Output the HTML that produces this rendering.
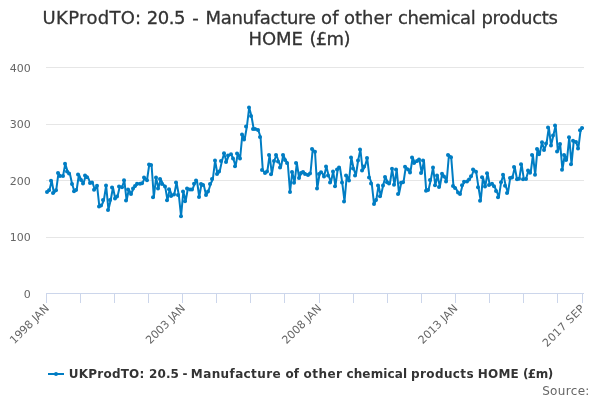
<!DOCTYPE html>
<html lang="en"><head><meta charset="utf-8"><title>UKProdTO: 20.5 - Manufacture of other chemical products HOME (£m)</title>
<style>
html,body{margin:0;padding:0;background:#fff;}
body{width:600px;height:400px;overflow:hidden;}
svg{display:block;font-family:"DejaVu Sans", "Liberation Sans", sans-serif;}
</style></head><body>
<svg width="600" height="400" viewBox="0 0 600 400">
<rect x="0" y="0" width="600" height="400" fill="#ffffff"/>

<g stroke="#e6e6e6" stroke-width="1" fill="none">
<path d="M 46 237.5 L 584 237.5"/>
<path d="M 46 180.5 L 584 180.5"/>
<path d="M 46 124.5 L 584 124.5"/>
<path d="M 46 67.5 L 584 67.5"/>
</g>
<g stroke="#ccd6eb" stroke-width="1" fill="none">
<path d="M 46 293.5 L 584 293.5"/>
<path d="M 46.5 293 L 46.5 303"/>
<path d="M 80.5 293 L 80.5 303"/>
<path d="M 114.5 293 L 114.5 303"/>
<path d="M 148.5 293 L 148.5 303"/>
<path d="M 182.5 293 L 182.5 303"/>
<path d="M 216.5 293 L 216.5 303"/>
<path d="M 250.5 293 L 250.5 303"/>
<path d="M 284.5 293 L 284.5 303"/>
<path d="M 319.5 293 L 319.5 303"/>
<path d="M 353.5 293 L 353.5 303"/>
<path d="M 387.5 293 L 387.5 303"/>
<path d="M 421.5 293 L 421.5 303"/>
<path d="M 455.5 293 L 455.5 303"/>
<path d="M 489.5 293 L 489.5 303"/>
<path d="M 523.5 293 L 523.5 303"/>
<path d="M 557.5 293 L 557.5 303"/>
<path d="M 582.5 293 L 582.5 303"/>
</g>
<g font-size="11" fill="#666666" text-anchor="end">
<text x="30.8" y="297.5">0</text>
<text x="30.8" y="241">100</text>
<text x="30.8" y="184.5">200</text>
<text x="30.8" y="128">300</text>
<text x="30.8" y="71.5">400</text>
</g>
<g font-size="11" fill="#666666" text-anchor="end">
<text x="49.74" y="309.00" transform="rotate(-45 49.74 309.00)">1998 JAN</text>
<text x="185.94" y="309.00" transform="rotate(-45 185.94 309.00)">2003 JAN</text>
<text x="322.14" y="309.00" transform="rotate(-45 322.14 309.00)">2008 JAN</text>
<text x="458.34" y="309.00" transform="rotate(-45 458.34 309.00)">2013 JAN</text>
<text x="585.46" y="309.00" letter-spacing="0.29" transform="rotate(-45 585.46 309.00)">2017 SEP</text>
</g>
<path d="M 47.14 192.00 L 49.41 190.20 L 51.68 180.80 L 53.95 193.00 L 56.22 190.20 L 58.49 173.00 L 60.76 176.00 L 63.03 176.00 L 65.30 163.80 L 67.57 171.50 L 69.84 173.50 L 72.11 184.00 L 74.38 191.20 L 76.65 190.00 L 78.92 174.50 L 81.19 180.00 L 83.46 183.50 L 85.73 175.60 L 88.00 177.30 L 90.27 183.00 L 92.54 182.50 L 94.81 189.80 L 97.08 185.70 L 99.35 206.50 L 101.62 205.50 L 103.89 200.00 L 106.16 185.50 L 108.43 209.90 L 110.70 200.00 L 112.97 187.50 L 115.24 198.50 L 117.51 196.50 L 119.78 186.50 L 122.05 187.20 L 124.32 180.20 L 126.59 200.50 L 128.86 189.50 L 131.13 194.00 L 133.40 188.50 L 135.67 186.00 L 137.94 183.80 L 140.21 183.80 L 142.48 183.30 L 144.75 177.60 L 147.02 180.20 L 149.29 164.50 L 151.56 165.00 L 153.83 197.20 L 156.10 177.50 L 158.37 188.50 L 160.64 179.00 L 162.91 184.00 L 165.18 186.60 L 167.45 200.20 L 169.72 189.20 L 171.99 196.00 L 174.26 194.50 L 176.53 182.50 L 178.80 195.00 L 181.07 216.20 L 183.34 191.50 L 185.61 201.20 L 187.88 188.50 L 190.15 189.50 L 192.42 189.50 L 194.69 183.70 L 196.96 180.50 L 199.23 197.00 L 201.50 184.00 L 203.77 185.00 L 206.04 195.00 L 208.31 191.50 L 210.58 184.00 L 212.85 179.00 L 215.12 160.50 L 217.39 174.00 L 219.66 171.60 L 221.93 161.00 L 224.20 153.20 L 226.47 162.00 L 228.74 155.50 L 231.01 154.20 L 233.28 158.50 L 235.55 166.30 L 237.82 153.50 L 240.09 158.50 L 242.36 134.50 L 244.63 139.50 L 246.90 126.50 L 249.17 107.50 L 251.44 116.00 L 253.71 129.00 L 255.98 129.00 L 258.25 130.00 L 260.52 137.00 L 262.79 170.00 L 265.06 173.00 L 267.33 171.50 L 269.60 155.00 L 271.87 174.20 L 274.14 161.00 L 276.41 155.00 L 278.68 161.50 L 280.95 167.50 L 283.22 155.00 L 285.49 160.00 L 287.76 163.00 L 290.03 192.00 L 292.30 172.00 L 294.57 182.70 L 296.84 163.00 L 299.11 178.00 L 301.38 173.00 L 303.65 172.00 L 305.92 174.00 L 308.19 175.00 L 310.46 173.50 L 312.73 149.10 L 315.00 151.80 L 317.27 188.50 L 319.54 174.00 L 321.81 172.20 L 324.08 176.50 L 326.35 166.50 L 328.62 175.50 L 330.89 182.50 L 333.16 171.50 L 335.43 186.20 L 337.70 169.50 L 339.97 167.50 L 342.24 182.60 L 344.51 201.50 L 346.78 175.50 L 349.05 180.50 L 351.32 157.50 L 353.59 168.50 L 355.86 175.50 L 358.13 160.50 L 360.40 149.50 L 362.67 170.60 L 364.94 166.50 L 367.21 158.00 L 369.48 177.50 L 371.75 183.50 L 374.02 204.00 L 376.29 200.00 L 378.56 185.50 L 380.83 196.20 L 383.10 185.50 L 385.37 177.00 L 387.64 182.20 L 389.91 183.50 L 392.18 168.80 L 394.45 184.80 L 396.72 169.50 L 398.99 194.00 L 401.26 182.80 L 403.53 182.20 L 405.80 166.80 L 408.07 169.50 L 410.34 172.60 L 412.61 157.50 L 414.88 163.00 L 417.15 161.00 L 419.42 159.50 L 421.69 173.00 L 423.96 160.50 L 426.23 190.80 L 428.50 190.00 L 430.77 180.00 L 433.04 167.50 L 435.31 185.20 L 437.58 175.50 L 439.85 186.90 L 442.12 173.80 L 444.39 176.50 L 446.66 181.50 L 448.93 155.00 L 451.20 157.20 L 453.47 186.10 L 455.74 188.00 L 458.01 192.50 L 460.28 194.00 L 462.55 185.30 L 464.82 181.70 L 467.09 181.50 L 469.36 179.50 L 471.63 176.20 L 473.90 169.50 L 476.17 171.80 L 478.44 187.20 L 480.71 200.80 L 482.98 177.20 L 485.25 186.50 L 487.52 173.20 L 489.79 185.00 L 492.06 183.80 L 494.33 186.20 L 496.60 191.00 L 498.87 197.20 L 501.14 182.20 L 503.41 174.80 L 505.68 185.80 L 507.95 193.00 L 510.22 177.90 L 512.49 177.50 L 514.76 167.10 L 517.03 179.20 L 519.30 178.80 L 521.57 164.20 L 523.84 179.20 L 526.11 179.00 L 528.38 170.50 L 530.65 172.80 L 532.92 155.00 L 535.19 174.80 L 537.46 149.00 L 539.73 154.20 L 542.00 142.20 L 544.27 150.00 L 546.54 143.50 L 548.81 127.50 L 551.08 145.50 L 553.35 135.50 L 555.62 125.50 L 557.89 151.50 L 560.16 144.00 L 562.43 169.70 L 564.70 155.00 L 566.97 160.00 L 569.24 137.20 L 571.51 164.20 L 573.78 140.80 L 576.05 142.00 L 578.32 148.60 L 580.59 130.20 L 582.86 127.90" fill="none" stroke="#007dc3" stroke-width="2" stroke-linejoin="round" stroke-linecap="round"/>
<g fill="#007dc3">
<circle cx="47" cy="192.00" r="2"/>
<circle cx="49" cy="190.20" r="2"/>
<circle cx="51" cy="180.80" r="2"/>
<circle cx="53" cy="193.00" r="2"/>
<circle cx="56" cy="190.20" r="2"/>
<circle cx="58" cy="173.00" r="2"/>
<circle cx="60" cy="176.00" r="2"/>
<circle cx="63" cy="176.00" r="2"/>
<circle cx="65" cy="163.80" r="2"/>
<circle cx="67" cy="171.50" r="2"/>
<circle cx="69" cy="173.50" r="2"/>
<circle cx="72" cy="184.00" r="2"/>
<circle cx="74" cy="191.20" r="2"/>
<circle cx="76" cy="190.00" r="2"/>
<circle cx="78" cy="174.50" r="2"/>
<circle cx="81" cy="180.00" r="2"/>
<circle cx="83" cy="183.50" r="2"/>
<circle cx="85" cy="175.60" r="2"/>
<circle cx="87" cy="177.30" r="2"/>
<circle cx="90" cy="183.00" r="2"/>
<circle cx="92" cy="182.50" r="2"/>
<circle cx="94" cy="189.80" r="2"/>
<circle cx="97" cy="185.70" r="2"/>
<circle cx="99" cy="206.50" r="2"/>
<circle cx="101" cy="205.50" r="2"/>
<circle cx="103" cy="200.00" r="2"/>
<circle cx="106" cy="185.50" r="2"/>
<circle cx="108" cy="209.90" r="2"/>
<circle cx="110" cy="200.00" r="2"/>
<circle cx="112" cy="187.50" r="2"/>
<circle cx="115" cy="198.50" r="2"/>
<circle cx="117" cy="196.50" r="2"/>
<circle cx="119" cy="186.50" r="2"/>
<circle cx="122" cy="187.20" r="2"/>
<circle cx="124" cy="180.20" r="2"/>
<circle cx="126" cy="200.50" r="2"/>
<circle cx="128" cy="189.50" r="2"/>
<circle cx="131" cy="194.00" r="2"/>
<circle cx="133" cy="188.50" r="2"/>
<circle cx="135" cy="186.00" r="2"/>
<circle cx="137" cy="183.80" r="2"/>
<circle cx="140" cy="183.80" r="2"/>
<circle cx="142" cy="183.30" r="2"/>
<circle cx="144" cy="177.60" r="2"/>
<circle cx="147" cy="180.20" r="2"/>
<circle cx="149" cy="164.50" r="2"/>
<circle cx="151" cy="165.00" r="2"/>
<circle cx="153" cy="197.20" r="2"/>
<circle cx="156" cy="177.50" r="2"/>
<circle cx="158" cy="188.50" r="2"/>
<circle cx="160" cy="179.00" r="2"/>
<circle cx="162" cy="184.00" r="2"/>
<circle cx="165" cy="186.60" r="2"/>
<circle cx="167" cy="200.20" r="2"/>
<circle cx="169" cy="189.20" r="2"/>
<circle cx="171" cy="196.00" r="2"/>
<circle cx="174" cy="194.50" r="2"/>
<circle cx="176" cy="182.50" r="2"/>
<circle cx="178" cy="195.00" r="2"/>
<circle cx="181" cy="216.20" r="2"/>
<circle cx="183" cy="191.50" r="2"/>
<circle cx="185" cy="201.20" r="2"/>
<circle cx="187" cy="188.50" r="2"/>
<circle cx="190" cy="189.50" r="2"/>
<circle cx="192" cy="189.50" r="2"/>
<circle cx="194" cy="183.70" r="2"/>
<circle cx="196" cy="180.50" r="2"/>
<circle cx="199" cy="197.00" r="2"/>
<circle cx="201" cy="184.00" r="2"/>
<circle cx="203" cy="185.00" r="2"/>
<circle cx="206" cy="195.00" r="2"/>
<circle cx="208" cy="191.50" r="2"/>
<circle cx="210" cy="184.00" r="2"/>
<circle cx="212" cy="179.00" r="2"/>
<circle cx="215" cy="160.50" r="2"/>
<circle cx="217" cy="174.00" r="2"/>
<circle cx="219" cy="171.60" r="2"/>
<circle cx="221" cy="161.00" r="2"/>
<circle cx="224" cy="153.20" r="2"/>
<circle cx="226" cy="162.00" r="2"/>
<circle cx="228" cy="155.50" r="2"/>
<circle cx="231" cy="154.20" r="2"/>
<circle cx="233" cy="158.50" r="2"/>
<circle cx="235" cy="166.30" r="2"/>
<circle cx="237" cy="153.50" r="2"/>
<circle cx="240" cy="158.50" r="2"/>
<circle cx="242" cy="134.50" r="2"/>
<circle cx="244" cy="139.50" r="2"/>
<circle cx="246" cy="126.50" r="2"/>
<circle cx="249" cy="107.50" r="2"/>
<circle cx="251" cy="116.00" r="2"/>
<circle cx="253" cy="129.00" r="2"/>
<circle cx="255" cy="129.00" r="2"/>
<circle cx="258" cy="130.00" r="2"/>
<circle cx="260" cy="137.00" r="2"/>
<circle cx="262" cy="170.00" r="2"/>
<circle cx="265" cy="173.00" r="2"/>
<circle cx="267" cy="171.50" r="2"/>
<circle cx="269" cy="155.00" r="2"/>
<circle cx="271" cy="174.20" r="2"/>
<circle cx="274" cy="161.00" r="2"/>
<circle cx="276" cy="155.00" r="2"/>
<circle cx="278" cy="161.50" r="2"/>
<circle cx="280" cy="167.50" r="2"/>
<circle cx="283" cy="155.00" r="2"/>
<circle cx="285" cy="160.00" r="2"/>
<circle cx="287" cy="163.00" r="2"/>
<circle cx="290" cy="192.00" r="2"/>
<circle cx="292" cy="172.00" r="2"/>
<circle cx="294" cy="182.70" r="2"/>
<circle cx="296" cy="163.00" r="2"/>
<circle cx="299" cy="178.00" r="2"/>
<circle cx="301" cy="173.00" r="2"/>
<circle cx="303" cy="172.00" r="2"/>
<circle cx="305" cy="174.00" r="2"/>
<circle cx="308" cy="175.00" r="2"/>
<circle cx="310" cy="173.50" r="2"/>
<circle cx="312" cy="149.10" r="2"/>
<circle cx="315" cy="151.80" r="2"/>
<circle cx="317" cy="188.50" r="2"/>
<circle cx="319" cy="174.00" r="2"/>
<circle cx="321" cy="172.20" r="2"/>
<circle cx="324" cy="176.50" r="2"/>
<circle cx="326" cy="166.50" r="2"/>
<circle cx="328" cy="175.50" r="2"/>
<circle cx="330" cy="182.50" r="2"/>
<circle cx="333" cy="171.50" r="2"/>
<circle cx="335" cy="186.20" r="2"/>
<circle cx="337" cy="169.50" r="2"/>
<circle cx="339" cy="167.50" r="2"/>
<circle cx="342" cy="182.60" r="2"/>
<circle cx="344" cy="201.50" r="2"/>
<circle cx="346" cy="175.50" r="2"/>
<circle cx="349" cy="180.50" r="2"/>
<circle cx="351" cy="157.50" r="2"/>
<circle cx="353" cy="168.50" r="2"/>
<circle cx="355" cy="175.50" r="2"/>
<circle cx="358" cy="160.50" r="2"/>
<circle cx="360" cy="149.50" r="2"/>
<circle cx="362" cy="170.60" r="2"/>
<circle cx="364" cy="166.50" r="2"/>
<circle cx="367" cy="158.00" r="2"/>
<circle cx="369" cy="177.50" r="2"/>
<circle cx="371" cy="183.50" r="2"/>
<circle cx="374" cy="204.00" r="2"/>
<circle cx="376" cy="200.00" r="2"/>
<circle cx="378" cy="185.50" r="2"/>
<circle cx="380" cy="196.20" r="2"/>
<circle cx="383" cy="185.50" r="2"/>
<circle cx="385" cy="177.00" r="2"/>
<circle cx="387" cy="182.20" r="2"/>
<circle cx="389" cy="183.50" r="2"/>
<circle cx="392" cy="168.80" r="2"/>
<circle cx="394" cy="184.80" r="2"/>
<circle cx="396" cy="169.50" r="2"/>
<circle cx="398" cy="194.00" r="2"/>
<circle cx="401" cy="182.80" r="2"/>
<circle cx="403" cy="182.20" r="2"/>
<circle cx="405" cy="166.80" r="2"/>
<circle cx="408" cy="169.50" r="2"/>
<circle cx="410" cy="172.60" r="2"/>
<circle cx="412" cy="157.50" r="2"/>
<circle cx="414" cy="163.00" r="2"/>
<circle cx="417" cy="161.00" r="2"/>
<circle cx="419" cy="159.50" r="2"/>
<circle cx="421" cy="173.00" r="2"/>
<circle cx="423" cy="160.50" r="2"/>
<circle cx="426" cy="190.80" r="2"/>
<circle cx="428" cy="190.00" r="2"/>
<circle cx="430" cy="180.00" r="2"/>
<circle cx="433" cy="167.50" r="2"/>
<circle cx="435" cy="185.20" r="2"/>
<circle cx="437" cy="175.50" r="2"/>
<circle cx="439" cy="186.90" r="2"/>
<circle cx="442" cy="173.80" r="2"/>
<circle cx="444" cy="176.50" r="2"/>
<circle cx="446" cy="181.50" r="2"/>
<circle cx="448" cy="155.00" r="2"/>
<circle cx="451" cy="157.20" r="2"/>
<circle cx="453" cy="186.10" r="2"/>
<circle cx="455" cy="188.00" r="2"/>
<circle cx="458" cy="192.50" r="2"/>
<circle cx="460" cy="194.00" r="2"/>
<circle cx="462" cy="185.30" r="2"/>
<circle cx="464" cy="181.70" r="2"/>
<circle cx="467" cy="181.50" r="2"/>
<circle cx="469" cy="179.50" r="2"/>
<circle cx="471" cy="176.20" r="2"/>
<circle cx="473" cy="169.50" r="2"/>
<circle cx="476" cy="171.80" r="2"/>
<circle cx="478" cy="187.20" r="2"/>
<circle cx="480" cy="200.80" r="2"/>
<circle cx="482" cy="177.20" r="2"/>
<circle cx="485" cy="186.50" r="2"/>
<circle cx="487" cy="173.20" r="2"/>
<circle cx="489" cy="185.00" r="2"/>
<circle cx="492" cy="183.80" r="2"/>
<circle cx="494" cy="186.20" r="2"/>
<circle cx="496" cy="191.00" r="2"/>
<circle cx="498" cy="197.20" r="2"/>
<circle cx="501" cy="182.20" r="2"/>
<circle cx="503" cy="174.80" r="2"/>
<circle cx="505" cy="185.80" r="2"/>
<circle cx="507" cy="193.00" r="2"/>
<circle cx="510" cy="177.90" r="2"/>
<circle cx="512" cy="177.50" r="2"/>
<circle cx="514" cy="167.10" r="2"/>
<circle cx="517" cy="179.20" r="2"/>
<circle cx="519" cy="178.80" r="2"/>
<circle cx="521" cy="164.20" r="2"/>
<circle cx="523" cy="179.20" r="2"/>
<circle cx="526" cy="179.00" r="2"/>
<circle cx="528" cy="170.50" r="2"/>
<circle cx="530" cy="172.80" r="2"/>
<circle cx="532" cy="155.00" r="2"/>
<circle cx="535" cy="174.80" r="2"/>
<circle cx="537" cy="149.00" r="2"/>
<circle cx="539" cy="154.20" r="2"/>
<circle cx="542" cy="142.20" r="2"/>
<circle cx="544" cy="150.00" r="2"/>
<circle cx="546" cy="143.50" r="2"/>
<circle cx="548" cy="127.50" r="2"/>
<circle cx="551" cy="145.50" r="2"/>
<circle cx="553" cy="135.50" r="2"/>
<circle cx="555" cy="125.50" r="2"/>
<circle cx="557" cy="151.50" r="2"/>
<circle cx="560" cy="144.00" r="2"/>
<circle cx="562" cy="169.70" r="2"/>
<circle cx="564" cy="155.00" r="2"/>
<circle cx="566" cy="160.00" r="2"/>
<circle cx="569" cy="137.20" r="2"/>
<circle cx="571" cy="164.20" r="2"/>
<circle cx="573" cy="140.80" r="2"/>
<circle cx="576" cy="142.00" r="2"/>
<circle cx="578" cy="148.60" r="2"/>
<circle cx="580" cy="130.20" r="2"/>
<circle cx="582" cy="127.90" r="2"/>
</g>
<text y="24" font-size="18" font-weight="normal" fill="#333333" stroke="#333333" stroke-width="0.3"><tspan x="42.58" letter-spacing="0.321">UKProdTO: </tspan><tspan x="146.82" letter-spacing="-0.512">20.5 </tspan><tspan x="192.26" letter-spacing="0.000">- </tspan><tspan x="205.39" letter-spacing="-0.262">Manufacture </tspan><tspan x="321.06" letter-spacing="0.116">of </tspan><tspan x="344.06" letter-spacing="-0.022">other </tspan><tspan x="398.06" letter-spacing="-0.466">chemical </tspan><tspan x="481.51" letter-spacing="-0.330">products</tspan></text>
<text y="45" font-size="18" font-weight="normal" fill="#333333" stroke="#333333" stroke-width="0.3"><tspan x="248.39" letter-spacing="0.001">HOME </tspan><tspan x="309.56" letter-spacing="-0.709">(£m)</tspan></text>
<path d="M 48 374 L 64 374" stroke="#007dc3" stroke-width="2" fill="none"/>
<circle cx="56" cy="374" r="2" fill="#007dc3"/>
<text y="378" font-size="12" font-weight="bold" fill="#333333"><tspan x="68.87" letter-spacing="0.210">UKProdTO: </tspan><tspan x="149.05" letter-spacing="0.102">20.5 </tspan><tspan x="182.51" letter-spacing="0.000">- </tspan><tspan x="190.87" letter-spacing="0.387">Manufacture </tspan><tspan x="285.44" letter-spacing="-0.004">of </tspan><tspan x="303.44" letter-spacing="0.486">other </tspan><tspan x="346.43" letter-spacing="0.139">chemical </tspan><tspan x="410.98" letter-spacing="0.396">products </tspan><tspan x="477.87" letter-spacing="0.192">HOME </tspan><tspan x="522.93" letter-spacing="-0.532">(£m)</tspan></text>
<text y="395" font-size="12" font-weight="normal" fill="#666666"><tspan x="542.16" letter-spacing="0.329">Source:</tspan></text>
</svg>
</body></html>
